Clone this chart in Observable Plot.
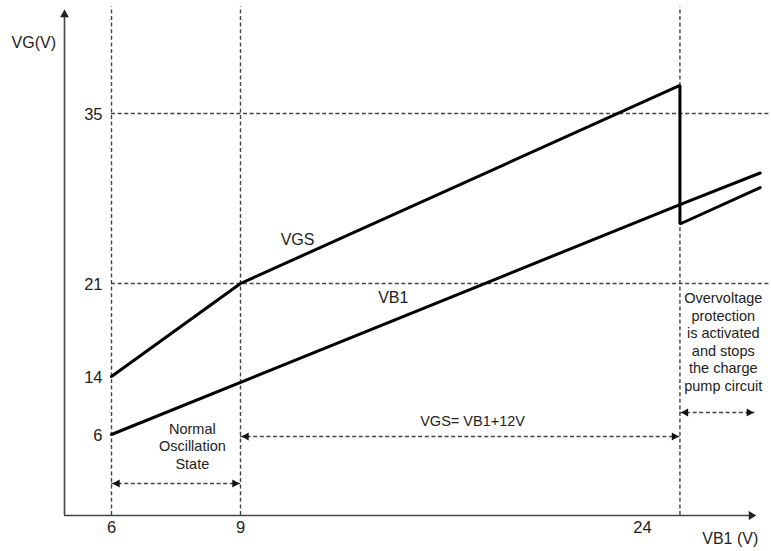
<!DOCTYPE html>
<html><head><meta charset="utf-8">
<script src="https://cdn.jsdelivr.net/npm/d3@7"></script>
<script src="https://cdn.jsdelivr.net/npm/@observablehq/plot@0.6"></script>
<style>html,body{margin:0;padding:0;background:#fff}#chart svg{display:block}</style>
</head><body><div id="chart"></div>
<script>
// ---- data (schematic) ----
const xTicks = [6, 9, 24];
const xTickLabels = ["6", "9", "24"];
const yTicks = [35, 21, 14, 6];
const yTickLabels = ["35", "21", "14", "6"];

const vgsX = [6, 9, 25.4, 25.4, 28.4];
const vgsY = [14, 21, 37.3, 25.9, 28.9];
const vb1X = [6, 25.4, 28.4];
const vb1Y = [6, 27.5, 30.1];

const guideX = [6, 9, 25.4];   // vertical dashed guides
const guideY = [35, 21];       // horizontal dashed guides

const spanFrom = [6, 9, 25.4];
const spanTo = [9, 25.4, 28.2];
const spanLevel = [2.37, 5.85, 9.03];

const noteText = ["Normal\nOscillation\nState", "VGS= VB1+12V",
  "Overvoltage\nprotection\nis activated\nand stops\nthe charge\npump circuit"];
const noteX = [7.88, 17.66, 27.02];
const noteY = [5.19, 7.93, 16.63];

const seriesNames = ["VGS", "VB1"];
const seriesLabelX = [11.13, 14.7];
const seriesLabelY = [24.6, 19.95];

const axisTitles = ["VG(V)", "VB1 (V)"];
const axisTitleX = [4.18, 27.28];
const axisTitleY = [40.8, -1.7];

const xMin = 4.9, xMax = 28.3, yMin = 0, yMax = 43.6;

// ---- build tables ----
const vgs = vgsX.map((x, i) => ({x, y: vgsY[i]}));
const vb1 = vb1X.map((x, i) => ({x, y: vb1Y[i]}));
const spans = spanFrom.map((a, i) => ({x1: a, x2: spanTo[i], y: spanLevel[i]}));
const notes = noteText.map((t, i) => ({t, x: noteX[i], y: noteY[i]}));
const seriesLabels = seriesNames.map((t, i) => ({t, x: seriesLabelX[i], y: seriesLabelY[i]}));
const titles = axisTitles.map((t, i) => ({t, x: axisTitleX[i], y: axisTitleY[i]}));
const xTickData = xTicks.map((x, i) => ({x, t: xTickLabels[i]}));
const yTickData = yTicks.map((y, i) => ({y, t: yTickLabels[i]}));

const font = "'Liberation Sans', Arial, Helvetica, sans-serif";
const dash = {stroke: "#444", strokeWidth: 1.4, strokeDasharray: "4,2.6"};
const headR = 3.9, headOff = 5.8;

const chart = Plot.plot({
  width: 771,
  height: 551,
  margin: 0,
  style: {fontFamily: font, background: "#fff", overflow: "visible"},
  x: {type: "linear", axis: null, domain: [xMin, 6, 9, 24, xMax], range: [64, 111, 240, 642, 757]},
  y: {type: "linear", axis: null, domain: [yMin, 6, 14, 21, 35, yMax], range: [515, 434, 376, 283, 113, 8]},
  marks: [
    // dashed guides
    Plot.ruleX(guideX, {x: d => d, y1: yMin, y2: yMax + 0.15, ...dash}),
    Plot.ruleY(guideY, {y: d => d, x1: 6, x2: 28.9, ...dash}),
    // axes
    Plot.ruleX([xMin], {x: d => d, y1: yMin, y2: yMax - 0.6, stroke: "#444", strokeWidth: 1.6}),
    Plot.ruleY([yMin], {y: d => d, x1: xMin, x2: xMax - 0.3, stroke: "#444", strokeWidth: 1.6}),
    Plot.dot([{x: xMin, y: yMax}], {x: "x", y: "y", symbol: "triangle2", r: 4.2, fill: "#222", dy: 6.2, rotate: 0}),
    Plot.dot([{x: xMax, y: yMin}], {x: "x", y: "y", symbol: "triangle2", r: 4.2, fill: "#222", dx: -6.2, rotate: 90}),
    // span arrows
    Plot.ruleY(spans, {y: "y", x1: "x1", x2: "x2", ...dash}),
    Plot.dot(spans, {x: "x1", y: "y", symbol: "triangle2", r: headR, fill: "#111", dx: headOff, rotate: -90}),
    Plot.dot(spans, {x: "x2", y: "y", symbol: "triangle2", r: headR, fill: "#111", dx: -headOff, rotate: 90}),
    // series
    Plot.line(vb1, {x: "x", y: "y", stroke: "#000", strokeWidth: 3, strokeLinejoin: "miter"}),
    Plot.line(vgs, {x: "x", y: "y", stroke: "#000", strokeWidth: 3, strokeLinejoin: "miter"}),
    // texts
    Plot.text(seriesLabels, {x: "x", y: "y", text: "t", fontSize: 16, fill: "#222"}),
    Plot.text(titles, {x: "x", y: "y", text: "t", fontSize: 16, fill: "#222"}),
    Plot.text(notes, {x: "x", y: "y", text: "t", fontSize: 14.5, lineHeight: 1.21, fill: "#222"}),
    Plot.text(xTickData, {x: "x", y: yMin, text: "t", dy: 12, fontSize: 16.5, fill: "#222"}),
    Plot.text(yTickData, {x: 6, y: "y", text: "t", dx: -9, dy: 1, textAnchor: "end", fontSize: 16.5, fill: "#222"})
  ]
});
document.getElementById("chart").appendChild(chart);
</script>
</body></html>
